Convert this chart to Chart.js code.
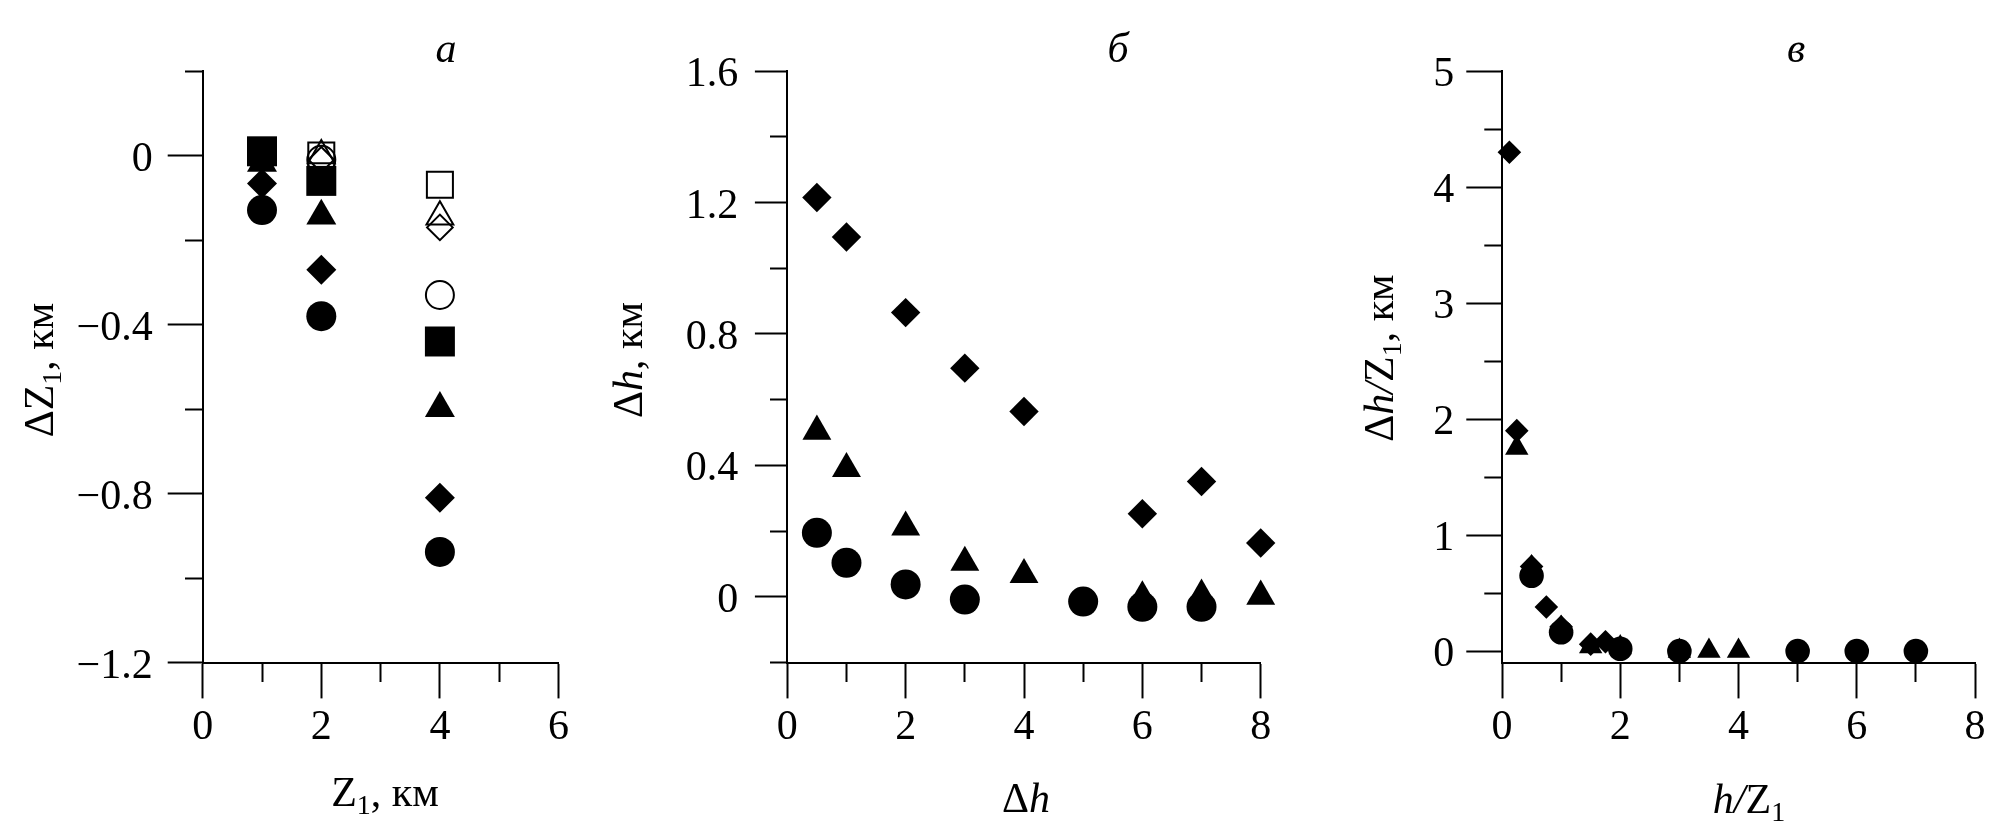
<!DOCTYPE html>
<html>
<head>
<meta charset="utf-8">
<script src="https://cdn.jsdelivr.net/npm/chart.js@4"></script>
<style>
  html, body { margin: 0; padding: 0; background: #fff; }
  body { width: 2008px; height: 839px; position: relative; overflow: hidden; }
  canvas { position: absolute; top: 0; }
</style>
</head>
<body>
<canvas id="panelA" width="600" height="839" style="left:0"></canvas>
<canvas id="panelB" width="730" height="839" style="left:600px"></canvas>
<canvas id="panelC" width="678" height="839" style="left:1330px"></canvas>
<script>
// Панель а: ΔZ1 в зависимости от Z1
const aX = [1, 2, 4];
const aSquare = [0.01, -0.06, -0.44];
const aDiamond = [-0.066, -0.27, -0.81];
const aTriangle = [-0.018, -0.143, -0.598];
const aCircle = [-0.129, -0.38, -0.938];
const aOpenX = [2, 4];
const aOpenSquare = [0.0, -0.069];
const aOpenTriangle = [0.0, -0.145];
const aOpenDiamond = [-0.01, -0.17];
const aOpenCircle = [-0.01, -0.33];

// Панель б: Δh
const bCircleX = [0.5, 1, 2, 3, 5, 6, 7];
const bCircle = [0.195, 0.104, 0.038, -0.008, -0.014, -0.03, -0.03];
const bTriangleX = [0.5, 1, 2, 3, 4, 6, 7, 8];
const bTriangle = [0.504, 0.39, 0.212, 0.105, 0.068, 0.0, 0.005, 0.002];
const bDiamondX = [0.5, 1, 2, 3, 4, 6, 7, 8];
const bDiamond = [1.215, 1.095, 0.865, 0.696, 0.564, 0.253, 0.351, 0.164];

// Панель в: Δh/Z1 от h/Z1
const cCircleX = [0.5, 1, 2, 3, 5, 6, 7];
const cCircle = [0.65, 0.163, 0.02, 0.0, 0.0, 0.0, 0.0];
const cTriangleX = [0.25, 0.5, 1, 1.5, 2, 3, 3.5, 4];
const cTriangle = [1.75, 0.72, 0.2, 0.04, 0.03, 0.0, 0.0, 0.0];
const cDiamondX = [0.125, 0.25, 0.5, 0.75, 1, 1.5, 1.75, 2];
const cDiamond = [4.3, 1.9, 0.73, 0.38, 0.21, 0.06, 0.08, 0.03];

// Подписанные (длинные) деления
const aXMajor = [0, 2, 4, 6];
const aYMajor = [0, -0.4, -0.8, -1.2];
const bXMajor = [0, 2, 4, 6, 8];
const bYMajor = [0, 0.4, 0.8, 1.2, 1.6];
const cXMajor = [0, 2, 4, 6, 8];
const cYMajor = [0, 1, 2, 3, 4, 5];

const FONT = '"Liberation Serif", "Times New Roman", serif';

function pts(xs, ys) {
  return xs.map((x, i) => ({ x: x, y: ys[i] }));
}

function isMajor(v, list) {
  return list.some(m => Math.abs(m - v) < 1e-6);
}

function fmt(v) {
  return String(Math.round(v * 10) / 10).replace('-', '\u2212');
}

function filled(data, style, r) {
  return { data: data, pointStyle: style, pointRadius: r,
    pointBackgroundColor: '#000', pointBorderColor: '#000', pointBorderWidth: 0,
    showLine: false, clip: false };
}

function hollow(data, style, r) {
  return { data: data, pointStyle: style, pointRadius: r,
    pointBackgroundColor: 'rgba(0,0,0,0)', pointBorderColor: '#000', pointBorderWidth: 2,
    showLine: false, clip: false };
}

// Ось: короткие деления делаются пунктиром у длинных
function axis(cfg) {
  const horiz = cfg.pos === 'bottom';
  return {
    type: 'linear', position: cfg.pos, min: cfg.min, max: cfg.max,
    ticks: {
      stepSize: cfg.step, autoSkip: false, maxRotation: 0,
      includeBounds: cfg.includeBounds !== false,
      padding: cfg.pad, labelOffset: cfg.labelOffset || 0,
      color: '#000', font: { family: FONT, size: 42 },
      callback: v => isMajor(v, cfg.majors) ? fmt(v) : ''
    },
    grid: {
      drawOnChartArea: false, tickLength: cfg.tickLen, tickWidth: 2, tickColor: '#000',
      tickBorderDash: c => (!c.tick || isMajor(c.tick.value, cfg.majors)) ? [] :
        (horiz ? [cfg.minorLen, 300] : [0, cfg.tickLen - cfg.minorLen, 300])
    },
    border: { display: true, color: '#000', width: 2 },
    afterFit: s => { if (horiz) s.height = cfg.size; else s.width = cfg.size; }
  };
}

// Подписи с курсивом и нижним индексом
function fontOf(p) {
  return (p.italic ? 'italic ' : '') + (p.sub ? 28 : 42) + 'px ' + FONT;
}

function richText(items) {
  return {
    id: 'richText',
    afterDraw(chart) {
      const ctx = chart.ctx;
      items.forEach(it => {
        ctx.save();
        ctx.translate(it.x, it.y);
        if (it.rot) ctx.rotate(it.rot);
        ctx.fillStyle = '#000';
        ctx.textBaseline = 'alphabetic';
        ctx.textAlign = 'left';
        let total = 0;
        const widths = it.parts.map(p => {
          ctx.font = fontOf(p);
          const w = ctx.measureText(p.t).width;
          total += w;
          return w;
        });
        let x = -total / 2;
        it.parts.forEach((p, i) => {
          ctx.font = fontOf(p);
          ctx.fillText(p.t, x, p.sub ? 8 : 0);
          x += widths[i];
        });
        ctx.restore();
      });
    }
  };
}

function makeChart(id, datasets, xAxis, yAxis, padRight, texts) {
  return new Chart(document.getElementById(id), {
    type: 'scatter',
    data: { datasets: datasets },
    options: {
      responsive: false, animation: false, devicePixelRatio: 1, events: [],
      layout: { padding: { left: 0, top: 71, right: padRight, bottom: 0 } },
      plugins: { legend: { display: false }, tooltip: { enabled: false } },
      scales: { x: xAxis, y: yAxis }
    },
    plugins: [richText(texts)]
  });
}

const UP = -Math.PI / 2;

// а
makeChart('panelA', [
  filled(pts(aX, aSquare), 'rect', 21.2),
  filled(pts(aX, aDiamond), 'rectRot', 15),
  filled(pts(aX, aTriangle), 'triangle', 17.3),
  filled(pts(aX, aCircle), 'circle', 15),
  hollow(pts(aOpenX, aOpenSquare), 'rect', 18.4),
  hollow(pts(aOpenX, aOpenTriangle), 'triangle', 15.5),
  hollow(pts(aOpenX, aOpenDiamond), 'rectRot', 12.8),
  hollow(pts(aOpenX, aOpenCircle), 'circle', 14)
],
  axis({ pos: 'bottom', min: 0, max: 6, step: 1, majors: aXMajor, tickLen: 35.7, minorLen: 18, pad: 4, size: 176.3 }),
  axis({ pos: 'left', min: -1.2, max: 0.2, step: 0.2, majors: aYMajor, tickLen: 35, minorLen: 17.7, pad: 15, size: 202.7, labelOffset: 4 }),
  41.5,
  [
    { x: 446, y: 62, parts: [{ t: 'а', italic: true }] },
    { x: 385, y: 806, parts: [{ t: 'Z' }, { t: '1', sub: true }, { t: ', км' }] },
    { x: 53, y: 370, rot: UP, parts: [{ t: 'ΔZ' }, { t: '1', sub: true }, { t: ', км' }] }
  ]);

// б
makeChart('panelB', [
  filled(pts(bCircleX, bCircle), 'circle', 15),
  filled(pts(bDiamondX, bDiamond), 'rectRot', 14.7),
  filled(pts(bTriangleX, bTriangle), 'triangle', 16.7)
],
  axis({ pos: 'bottom', min: 0, max: 8, step: 1, majors: bXMajor, tickLen: 35.7, minorLen: 18, pad: 4, size: 176.3 }),
  axis({ pos: 'left', min: -0.2, max: 1.6, step: 0.2, majors: bYMajor, tickLen: 32.4, minorLen: 17.3, pad: 16.6, size: 187.3, labelOffset: 4 }),
  69.3,
  [
    { x: 518, y: 62, parts: [{ t: 'б', italic: true }] },
    { x: 426, y: 812, parts: [{ t: 'Δ' }, { t: 'h', italic: true }] },
    { x: 42, y: 360, rot: UP, parts: [{ t: 'Δ' }, { t: 'h', italic: true }, { t: ', км' }] }
  ]);

// в
makeChart('panelC', [
  filled(pts(cCircleX, cCircle), 'circle', 12.3),
  filled(pts(cDiamondX, cDiamond), 'rectRot', 11.8),
  filled(pts(cTriangleX, cTriangle), 'triangle', 13.5)
],
  axis({ pos: 'bottom', min: 0, max: 8, step: 1, majors: cXMajor, tickLen: 35.7, minorLen: 18, pad: 4, size: 176.3 }),
  axis({ pos: 'left', min: -0.1, max: 5, step: 0.5, majors: cYMajor, tickLen: 35.7, minorLen: 17.7, pad: 12, size: 172, labelOffset: 4, includeBounds: false }),
  33,
  [
    { x: 466, y: 62, parts: [{ t: 'в', italic: true }] },
    { x: 419, y: 813, parts: [{ t: 'h/', italic: true }, { t: 'Z' }, { t: '1', sub: true }] },
    { x: 63, y: 358, rot: UP, parts: [{ t: 'Δ' }, { t: 'h/', italic: true }, { t: 'Z' }, { t: '1', sub: true }, { t: ', км' }] }
  ]);
</script>
</body>
</html>
